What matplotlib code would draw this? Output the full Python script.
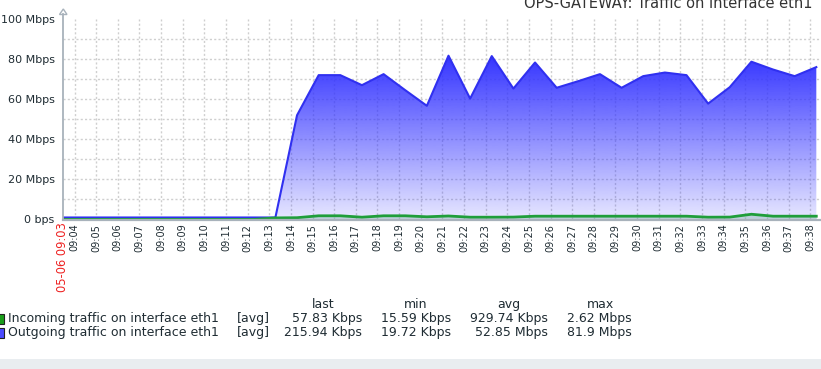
import numpy as np
import matplotlib
matplotlib.use("Agg")
import matplotlib.pyplot as plt
from matplotlib.patches import Rectangle, Polygon
from matplotlib.lines import Line2D

# ---------------- data ----------------
title = "OPS-GATEWAY: Traffic on interface eth1"
start_label = "05-06 09:03"
sample_minutes = list(range(3, 39))          # 09:03 ... 09:38 (sampled at :17 s)
outgoing_mbps = [1, 1, 1, 1, 1, 1, 1, 1, 1, 1, 1,
                 52, 72, 72, 67, 72.5, 64.5, 56.7, 81.7, 60.3, 81.5, 65.3,
                 78.3, 65.7, 69, 72.5, 65.7, 71.5, 73.3, 72, 57.8, 66, 78.7,
                 74.8, 71.5, 76]
incoming_mbps = [0.03, 0.03, 0.03, 0.03, 0.03, 0.03, 0.03, 0.03, 0.03, 0.03,
                 0.8, 0.9, 1.85, 1.85, 1.15, 1.85, 1.85, 1.35, 1.75, 1.15,
                 1.15, 1.2, 1.65, 1.65, 1.65, 1.65, 1.65, 1.65, 1.65, 1.65,
                 1.15, 1.2, 2.62, 1.65, 1.65, 1.65]
tick_minutes = list(range(4, 39))
tick_labels = ["09:%02d" % m for m in tick_minutes]
y_ticks = [0, 20, 40, 60, 80, 100]
y_tick_labels = ["0 bps", "20 Mbps", "40 Mbps", "60 Mbps", "80 Mbps", "100 Mbps"]

legend_names = ["Incoming traffic on interface eth1", "Outgoing traffic on interface eth1"]
legend_colors = ["#1a9e1a", "#4a4aff"]
stat_headers = ["last", "min", "avg", "max"]
stat_last = ["57.83 Kbps", "215.94 Kbps"]
stat_min = ["15.59 Kbps", "19.72 Kbps"]
stat_avg = ["929.74 Kbps", "52.85 Mbps"]
stat_max = ["2.62 Mbps", "81.9 Mbps"]

# ---------------- layout ----------------
W, H = 821, 369
fig = plt.figure(figsize=(W / 100, H / 100), dpi=100)
fig.patch.set_facecolor("white")

def fx(px):
    return px / W

def fy(py):
    return 1 - py / H

ax_left, ax_right, ax_top, ax_bot = 63, 821, 19, 219.5
ax = fig.add_axes([fx(ax_left), fy(ax_bot), fx(ax_right - ax_left), (ax_bot - ax_top) / H])
ax.set_facecolor("white")

x_start = 3 + 28 / 60
x_end = 38.5

t = np.array(sample_minutes, dtype=float) + 17 / 60
out = np.array(outgoing_mbps, dtype=float)
inc = np.array(incoming_mbps, dtype=float)

# grid
grid_col = "#cfcfcf"
for m in tick_minutes:
    ax.axvline(m, color=grid_col, lw=1, ls=(0, (1.5, 1.6)), zorder=1)
for v in range(10, 100, 10):
    ax.axhline(v, color=grid_col, lw=1, ls=(0, (1.5, 1.6)), zorder=1)

# gradient fill for outgoing
poly = ax.fill_between(t, 0, out, color="none", lw=0, zorder=2)
vmax = out.max()
n = 256
alpha = np.linspace(0.12, 1.0, n)[:, None]
grad = np.zeros((n, 1, 4))
grad[..., 0] = 0.2
grad[..., 1] = 0.2
grad[..., 2] = 1.0
grad[..., 3] = alpha
im = ax.imshow(grad, extent=[x_start, x_end, 0, vmax], origin="lower",
               aspect="auto", zorder=2, interpolation="bilinear")
clip = poly.get_paths()[0]
im.set_clip_path(clip, transform=ax.transData)
ax.set_xlim(x_start, x_end)
ax.set_ylim(0, 100)

ax.plot(t, out, color="#3030f0", lw=1.5, zorder=4)

# incoming
ax.fill_between(t, 0, inc, color="#6fa89a", alpha=0.35, lw=0, zorder=3)
ax.plot(t, inc, color="#1f9e3a", lw=2, zorder=5)

# axes styling
for s in ax.spines.values():
    s.set_visible(False)
ax.set_yticks(y_ticks)
ax.set_yticklabels(y_tick_labels, fontsize=8, color="#1f2c33")
ax.tick_params(axis="y", length=0, pad=6)
ax.set_xticks(tick_minutes)
ax.set_xticklabels(tick_labels, rotation=90, fontsize=7, color="#1f2c33", va="top")
ax.tick_params(axis="x", length=0, pad=3)

# axis lines
axis_col = "#a8b2bb"
fig.add_artist(Line2D([fx(ax_left), fx(ax_left)], [fy(220), fy(14)], color=axis_col, lw=1.3))
fig.add_artist(Line2D([fx(ax_left), fx(821)], [fy(219.8), fy(219.8)], color=axis_col, lw=1.6))
fig.add_artist(Polygon([[fx(59.5), fy(14.5)], [fx(67), fy(14.5)], [fx(63.3), fy(9)]],
                       closed=True, facecolor="white", edgecolor=axis_col, lw=1))

# start label
fig.text(fx(63), fy(222), start_label, rotation=90, color="#ee2222", fontsize=8.3,
         ha="center", va="top")

# title (partly above the top edge, as in the reference)
fig.text(fx(812), fy(8.5), title, ha="right", va="baseline", fontsize=10.5, color="#333333")

# legend
lf = 9
rows_y = [318.5, 332.5]
for i in range(2):
    fig.add_artist(Rectangle((fx(-2), fy(rows_y[i] + 5)), fx(6), 10 / H,
                             facecolor=legend_colors[i], edgecolor="#222222", lw=0.8))
    fig.text(fx(8), fy(rows_y[i]), legend_names[i], ha="left", va="center",
             fontsize=lf, color="#1f2c33")
    fig.text(fx(237), fy(rows_y[i]), "[avg]", ha="left", va="center", fontsize=lf, color="#1f2c33")
    for col_x, vals in zip([362, 451, 548, 632], [stat_last, stat_min, stat_avg, stat_max]):
        fig.text(fx(col_x), fy(rows_y[i]), vals[i], ha="right", va="center",
                 fontsize=lf, color="#1f2c33")
for cx, h in zip([323, 416, 509, 600], stat_headers):
    fig.text(fx(cx), fy(304.5), h, ha="center", va="center", fontsize=lf, color="#1f2c33")

# bottom band
fig.add_artist(Rectangle((0, 0), 1, fy(359), facecolor="#e9edf0", edgecolor="none"))

fig.savefig("out.png", dpi=100)
